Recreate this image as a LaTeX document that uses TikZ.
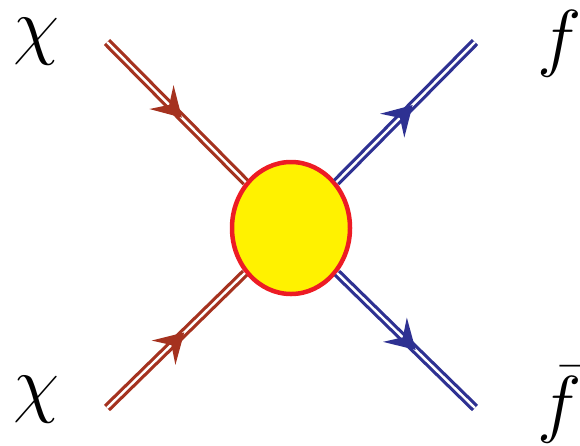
\documentclass[tikz,border=0pt]{standalone}
\usepackage{fix-cm}
\usetikzlibrary{shapes.geometric,decorations.markings}
\definecolor{fermred}{HTML}{A5321F}
\definecolor{fermblue}{HTML}{2E3192}
\definecolor{blobred}{HTML}{ED1C24}
\definecolor{blobyellow}{HTML}{FFF200}
\tikzset{
  fermion/.style 2 args={draw=#1, line width=3.2pt, double=white, double distance=2.4pt,
    postaction={decorate},
    decoration={markings, mark=at position #2 with {\fill[#1] (0,0) -- (-29,17) -- (-18,0) -- (-29,-17) -- cycle;}}},
  blob/.style={ellipse, draw=blobred, fill=blobyellow, line width=4.5pt,
    minimum width=118pt, minimum height=132pt, inner sep=0pt},
  lbl/.style={inner sep=0pt, font=\fontsize{75}{80}\selectfont}
}
\begin{document}
\begin{tikzpicture}[x=1pt,y=-1pt]
\useasboundingbox (0,0) rectangle (580,445);
\node[blob] (c) at (291,228) {};
\coordinate (ul) at (107,42);
\coordinate (ll) at (107,408);
\coordinate (ur) at (475,42);
\coordinate (lr) at (475,408);
\draw[fermion={fermred}{0.54}] (ul) -- (c);
\draw[fermion={fermred}{0.56}] (ll) -- (c);
\draw[fermion={fermblue}{0.55}] (c) -- (ur);
\draw[fermion={fermblue}{0.57}] (c) -- (lr);
\node[lbl] (chi1) at (37,42) {$\chi$};
\node[lbl] (chi2) at (37,400) {$\chi$};
\node[lbl] (f1) at (560,44) {$f$};
\node[lbl] (f2) at (560,405) {$\bar{f}$};
\end{tikzpicture}
\end{document}
